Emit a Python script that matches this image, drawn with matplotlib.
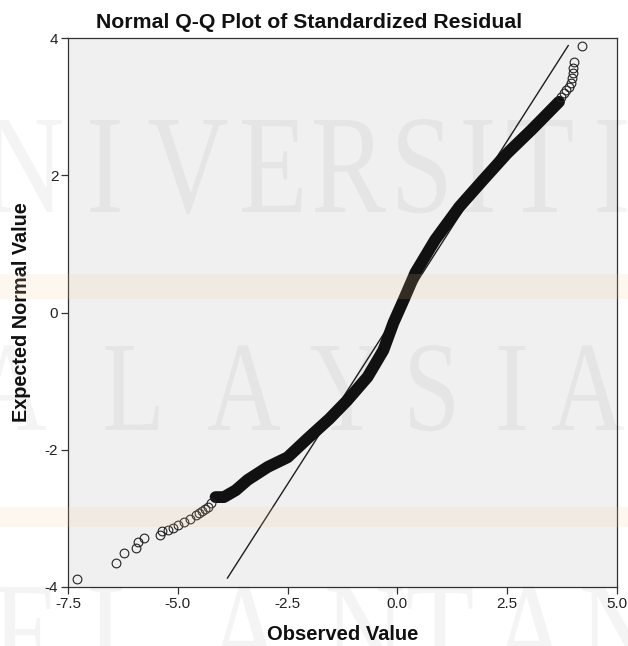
import matplotlib
matplotlib.use("Agg")
import matplotlib.pyplot as plt
from matplotlib.textpath import TextPath
from matplotlib.patches import PathPatch, Rectangle
from matplotlib.font_manager import FontProperties
from matplotlib.transforms import Affine2D

# ---------------- data ----------------
# dense part of the Q-Q point cloud (observed, expected)
band_observed = [-4.14, -3.95, -3.68, -3.41, -2.95, -2.50, -2.05, -1.55,
                 -1.14, -0.68, -0.32, -0.09, 0.14, 0.41, 0.86, 1.41, 1.95,
                 2.50, 3.05, 3.45, 3.68]
band_expected = [-2.69, -2.69, -2.59, -2.44, -2.25, -2.11, -1.84, -1.55,
                 -1.28, -0.94, -0.55, -0.15, 0.18, 0.58, 1.06, 1.54, 1.93,
                 2.32, 2.66, 2.92, 3.07]
# sparse tail points
lower_observed = [-7.30, -6.41, -6.23, -5.95, -5.91, -5.77, -5.41, -5.36, -5.23,
                  -5.11, -5.00, -4.86, -4.73, -4.59, -4.52, -4.45, -4.38, -4.32,
                  -4.25]
lower_expected = [-3.88, -3.65, -3.50, -3.43, -3.34, -3.29, -3.24, -3.18, -3.17,
                  -3.14, -3.10, -3.05, -3.01, -2.95, -2.92, -2.89, -2.86, -2.83,
                  -2.77]
upper_observed = [3.73, 3.80, 3.84, 3.91, 3.95, 3.98, 4.00, 4.00, 4.02, 4.20]
upper_expected = [3.14, 3.20, 3.24, 3.29, 3.34, 3.42, 3.49, 3.56, 3.65, 3.88]
# reference line (y = x) end points
line_x = [-3.87, 3.89]
line_y = [-3.87, 3.89]

x_ticks = [-7.5, -5.0, -2.5, 0.0, 2.5, 5.0]
x_tick_labels = ["-7.5", "-5.0", "-2.5", "0.0", "2.5", "5.0"]
y_ticks = [-4, -2, 0, 2, 4]
y_tick_labels = ["-4", "-2", "0", "2", "4"]

title_text = "Normal Q-Q Plot of Standardized Residual"
x_label = "Observed Value"
y_label = "Expected Normal Value"

watermark_rows = ["UNIVERSITI", "MALAYSIA", "KELANTAN"]

# ---------------- figure ----------------
W, H = 628, 646
fig = plt.figure(figsize=(W / 100, H / 100), dpi=100)
fig.patch.set_facecolor("white")

ax = fig.add_axes([68 / W, (H - 587) / H, 549 / W, 549 / H])
ax.set_facecolor("#F0F0F0")

ax.plot(line_x, line_y, color="#1e1e1e", lw=1.0, zorder=2)
ax.plot(band_observed, band_expected, color="#111111", lw=8.5,
        solid_capstyle="round", solid_joinstyle="round", zorder=3)
all_tail_x = lower_observed + upper_observed
all_tail_y = lower_expected + upper_expected
ax.plot(all_tail_x, all_tail_y, ls="none", marker="o", ms=6.3,
        mfc="none", mec="#222222", mew=0.8, zorder=4)

ax.set_xlim(-7.5, 5.0)
ax.set_ylim(-4, 4)
ax.set_xticks(x_ticks)
ax.set_xticklabels(x_tick_labels)
ax.set_yticks(y_ticks)
ax.set_yticklabels(y_tick_labels)

for lab in ax.get_xticklabels() + ax.get_yticklabels():
    lab.set_fontfamily("Liberation Sans")
    lab.set_fontsize(11)
    lab.set_color("#222222")
ax.tick_params(direction="out", length=5, width=0.9, color="#333333", pad=2)

for sp in ax.spines.values():
    sp.set_color("#333333")
    sp.set_linewidth(0.9)

fig.text(309 / W, 1 - 23 / H, title_text, ha="center", va="center",
         family="Liberation Sans", weight="bold", size=15.3, color="#111111")
fig.text(343 / W, 1 - 635 / H, x_label, ha="center", va="center",
         family="Liberation Sans", weight="bold", size=14.5, color="#111111")
fig.text(22 / W, 1 - 312 / H, y_label, ha="center", va="center", rotation=90,
         family="Liberation Sans", weight="bold", size=14.3, color="#111111")

# ---------------- watermark ----------------
for y0, h in [(274, 25), (507, 20)]:
    fig.add_artist(Rectangle((0, H - y0 - h), W, h, transform=None,
                             facecolor=(0.97, 0.80, 0.62), alpha=0.15,
                             edgecolor="none", zorder=20))

wm_prop = FontProperties(family="Liberation Serif")
row_layout = [
    (212, 92, [-58, 24, 105, 188, 272, 350, 422, 478, 540, 612]),
    (430, 84, [-80, 10, 132, 244, 346, 432, 512, 588]),
    (679, 92, [-80, 25, 120, 245, 365, 440, 530, 620]),
]
ref_path = TextPath((0, 0), "I", size=100, prop=wm_prop)
ref_h = ref_path.get_extents().height
for text, (baseline, cap, centers) in zip(watermark_rows, row_layout):
    sy = cap / ref_h
    sx = sy * 0.8
    for ch, cx in zip(text, centers):
        p = TextPath((0, 0), ch, size=100, prop=wm_prop)
        ext = p.get_extents()
        mid = (ext.x0 + ext.x1) / 2
        tr = Affine2D().translate(-mid, 0).scale(sx, sy).translate(cx, H - baseline)
        fig.add_artist(PathPatch(p, transform=tr, facecolor=(0, 0, 0, 0.045),
                                 edgecolor="none", zorder=21))

fig.savefig("out.png", dpi=100)
